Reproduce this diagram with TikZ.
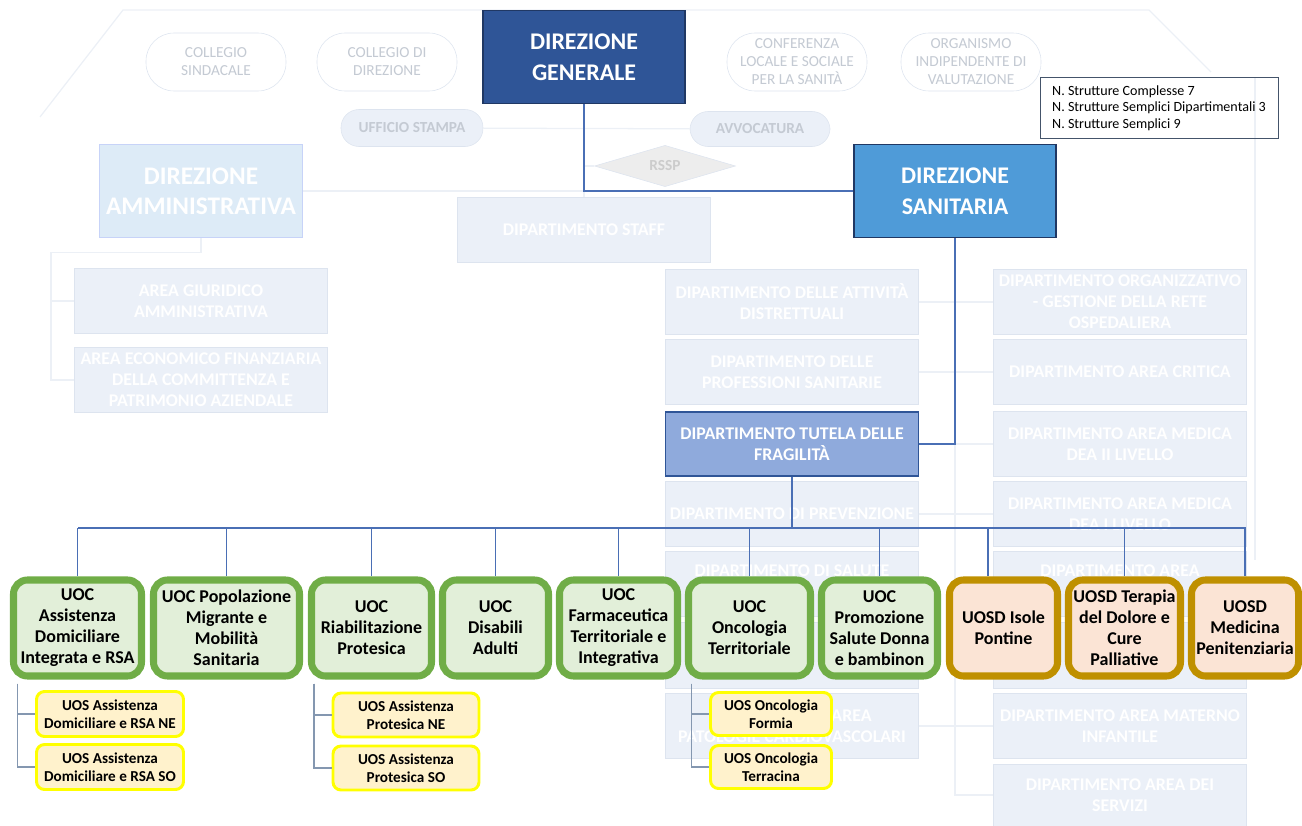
\documentclass[tikz,border=0pt]{standalone}
\usepackage{fontspec}
\setmainfont{Carlito}
\usetikzlibrary{shapes.geometric}
\newcommand{\pxl}{0.025cm}
\definecolor{dgblue}{HTML}{2F5597}
\definecolor{dgline}{HTML}{203864}
\definecolor{dsblue}{HTML}{4F9BD8}
\definecolor{dtfblue}{HTML}{8FAADC}
\definecolor{linkblue}{HTML}{4A6FB5}
\definecolor{subline}{HTML}{8497B0}
\definecolor{fadefill}{HTML}{EBF0F8}
\definecolor{fadeline}{HTML}{DDE4EF}
\definecolor{fadetext}{HTML}{C4CAD3}
\definecolor{dafill}{HTML}{DDEBF7}
\definecolor{uocgreen}{HTML}{70AD47}
\definecolor{uocfill}{HTML}{E2EFD9}
\definecolor{uosdgold}{HTML}{BF9000}
\definecolor{uosdfill}{HTML}{FBE4D5}
\definecolor{uosyellow}{HTML}{FFFF00}
\definecolor{uosfill}{HTML}{FFF2CC}
\definecolor{infoline}{HTML}{44546A}

\begin{document}
\begin{tikzpicture}[x=0.025cm,y=-0.025cm]
\tikzset{box/.style 2 args = {rectangle,minimum width=#1*\pxl,minimum height=#2*\pxl,inner sep=0pt,align=center}}
\tikzset{faded/.style = {draw=fadeline,fill=fadefill,text=white,font=\bfseries\fontsize{12.7}{14.9}\selectfont}}
\tikzset{pill/.style = {draw=fadeline,fill=white,text=fadetext,rounded corners=0.7cm,font=\fontsize{10.9}{12.8}\selectfont}}
\tikzset{office/.style = {pill,fill=fadefill,rounded corners=0.45cm,font=\bfseries\fontsize{10.9}{12.8}\selectfont}}
\tikzset{head/.style = {draw=dgline,line width=0.8pt,text=white,font=\bfseries\fontsize{17}{22}\selectfont}}
\tikzset{uoc/.style = {draw=uocgreen,fill=uocfill,line width=5pt,rounded corners=0.35cm,font=\bfseries\fontsize{12.8}{14.9}\selectfont}}
\tikzset{uosd/.style = {uoc,draw=uosdgold,fill=uosdfill}}
\tikzset{uos/.style = {draw=uosyellow,fill=uosfill,line width=2.1pt,rounded corners=0.2cm,font=\bfseries\fontsize{10.8}{13}\selectfont}}
\tikzset{link/.style = {draw=linkblue,line width=0.9pt}}
\tikzset{sub/.style = {draw=subline,line width=0.9pt}}
\tikzset{fadeedge/.style = {draw=fadeline!55,line width=0.9pt}}
\useasboundingbox (0,0) rectangle (1302,826);
% FADED FRAME
\draw[fadeedge] (40,117) -- (123,10) -- (1149,10) -- (1211,72);
\draw[fadeedge] (1255,78) -- (1255,560);
% FADED NODES
\node[box={140}{58},pill] (cs) at (216,62) {COLLEGIO\\SINDACALE};
\node[box={140}{58},pill] (cd) at (387,62) {COLLEGIO DI\\DIREZIONE};
\node[box={140}{58},pill] (clss) at (797,62) {CONFERENZA\\LOCALE E SOCIALE\\PER LA SANITÀ};
\node[box={140}{58},pill] (oiv) at (971,62) {ORGANISMO\\INDIPENDENTE DI\\VALUTAZIONE};
\node[box={142}{37},office] (us) at (412,128) {UFFICIO STAMPA};
\node[box={140}{35},office] (av) at (760,129) {AVVOCATURA};
\node[diamond,minimum width=141*\pxl,minimum height=36*\pxl,inner sep=0pt,draw=fadeline,fill=black!7,text=black!20,font=\bfseries\fontsize{10.9}{12.8}\selectfont] (rssp) at (665,166) {RSSP};
\node[box={203}{93},faded,fill=dafill,draw=dafill!90!blue,font=\bfseries\fontsize{18}{21.3}\selectfont] (da) at (201,191) {DIREZIONE\\AMMINISTRATIVA};
\node[box={253}{65},faded] (staff) at (584,230) {DIPARTIMENTO STAFF};
\node[box={253}{65},faded] (agiur) at (201,301) {AREA GIURIDICO\\AMMINISTRATIVA};
\node[box={253}{65},faded] (aeco) at (201,380) {AREA ECONOMICO FINANZIARIA\\DELLA COMMITTENZA E\\PATRIMONIO AZIENDALE};
\node[box={253}{65},faded] (att) at (792,302) {DIPARTIMENTO DELLE ATTIVITÀ\\DISTRETTUALI};
\node[box={253}{65},faded] (prof) at (792,372) {DIPARTIMENTO DELLE\\PROFESSIONI SANITARIE};
\node[box={253}{65},faded] (prev) at (792,514) {DIPARTIMENTO DI PREVENZIONE};
\node[box={253}{65},faded] (sal) at (792,584) {DIPARTIMENTO DI SALUTE\\\strut};
\node[box={253}{66},faded] (mid) at (792,655) {};
\node[box={253}{65},faded] (pat) at (792,726) {DIPARTIMENTO AREA\\PATOLOGIE CARDIOVASCOLARI};
\node[box={253}{65},faded] (org) at (1120,302) {DIPARTIMENTO ORGANIZZATIVO\\- GESTIONE DELLA RETE\\OSPEDALIERA};
\node[box={253}{65},faded] (crit) at (1120,372) {DIPARTIMENTO AREA CRITICA};
\node[box={253}{65},faded] (med2) at (1120,444) {DIPARTIMENTO AREA MEDICA\\DEA II LIVELLO};
\node[box={253}{65},faded] (med1) at (1120,514) {DIPARTIMENTO AREA MEDICA\\DEA I LIVELLO};
\node[box={253}{65},faded] (area) at (1120,584) {DIPARTIMENTO AREA\\\strut};
\node[box={253}{66},faded] (rgt) at (1120,655) {};
\node[box={253}{65},faded] (mat) at (1120,726) {DIPARTIMENTO AREA MATERNO\\INFANTILE};
\node[box={253}{62},faded] (serv) at (1120,795) {DIPARTIMENTO AREA DEI\\SERVIZI};
% MAIN NODES
\node[box={202}{93},head,fill=dgblue] (dg) at (584,57) {DIREZIONE\\GENERALE};
\node[box={202}{93},head,fill=dsblue] (ds) at (955,191) {DIREZIONE\\SANITARIA};
\node[box={238}{61},draw=infoline,line width=0.7pt,align=left,font=\fontsize{10}{11.6}\selectfont] (info) at (1159,108) {N. Strutture Complesse 7\\N. Strutture Semplici Dipartimentali 3\\N. Strutture Semplici 9};
\node[box={253}{64},head,fill=dtfblue,draw=dgblue,font=\bfseries\fontsize{12.7}{14.9}\selectfont] (dtf) at (792,444) {DIPARTIMENTO TUTELA DELLE\\FRAGILITÀ};
% FADED EDGES
\draw[fadeedge] (us) -- (av);
\draw[fadeedge] (da.east) -- (da.east -| dg.south) -- (staff.north);
\draw[fadeedge] (rssp.west -| dg.south) -- (rssp.west);
\draw[fadeedge] (da.south) -- ++(0,15) -| (51,380) -- (aeco.west);
\draw[fadeedge] (agiur.west) -- ++(-24,0);
\draw[fadeedge] (ds.south) |- (serv.west);
\draw[fadeedge] (att.east) -- (org.west);
\draw[fadeedge] (prof.east) -- (crit.west);
\draw[fadeedge] (dtf.east) -- (med2.west);
\draw[fadeedge] (prev.east) -- (med1.west);
\draw[fadeedge] (pat.east) -- (mat.west);
% UOC / UOSD
\node[box={128}{96},uoc] (uocA) at (77.5,628) {UOC\\Assistenza\\Domiciliare\\Integrata e RSA};
\node[box={146}{96},uoc] (uocB) at (226.5,628) {UOC Popolazione\\Migrante e\\Mobilità\\Sanitaria};
\node[box={120}{96},uoc] (uocC) at (371.5,628) {UOC\\Riabilitazione\\Protesica};
\node[box={106}{96},uoc] (uocD) at (495.5,628) {UOC\\Disabili\\Adulti};
\node[box={118}{96},uoc] (uocE) at (618.5,628) {UOC\\Farmaceutica\\Territoriale e\\Integrativa};
\node[box={122}{96},uoc] (uocF) at (749.5,628) {UOC\\Oncologia\\Territoriale};
\node[box={116}{96},uoc] (uocG) at (879.5,628) {UOC\\Promozione\\Salute Donna\\e bambinon};
\node[box={108}{96},uosd] (uosdH) at (1003.5,628) {UOSD Isole\\Pontine};
\node[box={112}{96},uosd] (uosdI) at (1124.5,628) {UOSD Terapia\\del Dolore e\\Cure\\Palliative};
\node[box={107}{96},uosd] (uosdJ) at (1245,628) {UOSD\\Medicina\\Penitenziaria};
% UOS
\node[box={147}{45},uos] (uosA1) at (110,714) {UOS Assistenza\\Domiciliare e RSA NE};
\node[box={147}{45},uos] (uosA2) at (110,767) {UOS Assistenza\\Domiciliare e RSA SO};
\node[box={146}{44},uos] (uosC1) at (406,715) {UOS Assistenza\\Protesica NE};
\node[box={146}{44},uos] (uosC2) at (406,768) {UOS Assistenza\\Protesica SO};
\node[box={121}{43},uos] (uosF1) at (771,714) {UOS Oncologia\\Formia};
\node[box={121}{43},uos] (uosF2) at (771,767) {UOS Oncologia\\Terracina};
% EDGES
\coordinate (busL) at (78,528);
\coordinate (busR) at (1246,528);
\draw[link] (dg.south) |- (ds.west);
\draw[link] (ds.south) |- (dtf.east);
\draw[link] (dtf.south) -- (dtf.south |- busL);
\draw[link] (busL) -- (busR);
\foreach \n in {uocA,uocB,uocC,uocD,uocE,uocF,uocG,uosdI,uosdJ}
  \draw[link] (\n.north |- busL) -- (\n.north);
\draw[link] ([xshift=-0.39cm]uosdH.north |- busL) -- ([xshift=-0.39cm]uosdH.north);
\draw[sub] (uocA.south west) ++(7.5,4) |- (uosA1.west);
\draw[sub] (uocA.south west) ++(7.5,4) |- (uosA2.west);
\draw[sub] (uocC.south west) ++(6,4) |- (uosC1.west);
\draw[sub] (uocC.south west) ++(6,4) |- (uosC2.west);
\draw[sub] (uocF.south west) ++(6.5,4) |- (uosF1.west);
\draw[sub] (uocF.south west) ++(6.5,4) |- (uosF2.west);
\end{tikzpicture}
\end{document}
